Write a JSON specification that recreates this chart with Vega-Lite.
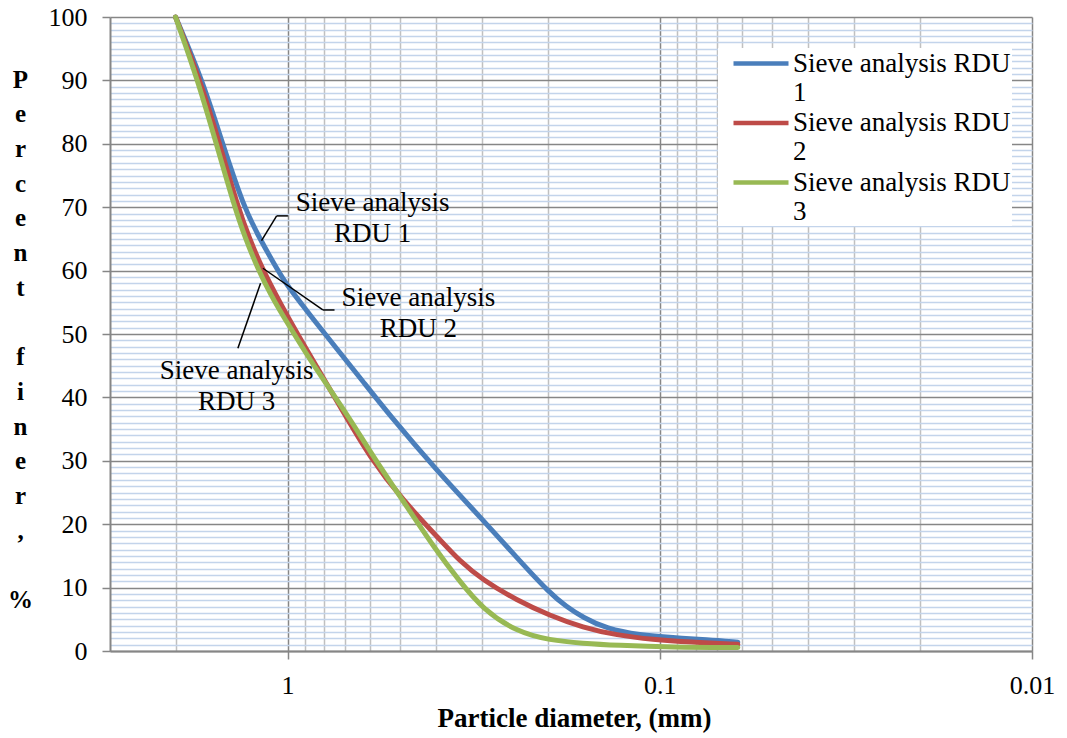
{
  "$schema": "https://vega.github.io/schema/vega-lite/v6.json",
  "width": 922,
  "height": 634,
  "autosize": {"type": "none"},
  "padding": {"left": 110, "top": 17, "right": 35, "bottom": 87},
  "background": "white",
  "config": {
    "view": {"stroke": null},
    "font": "Liberation Serif",
    "axis": {"labelFont": "Liberation Serif", "titleFont": "Liberation Serif", "labelColor": "black", "titleColor": "black"}
  },
  "datasets": {
    "curves": [
      {"s": "Sieve analysis RDU 1", "d": 2.0, "p": 100},
      {"s": "Sieve analysis RDU 1", "d": 1.692, "p": 90},
      {"s": "Sieve analysis RDU 1", "d": 1.495, "p": 80},
      {"s": "Sieve analysis RDU 1", "d": 1.311, "p": 70},
      {"s": "Sieve analysis RDU 1", "d": 1.189, "p": 65.1},
      {"s": "Sieve analysis RDU 1", "d": 1.062, "p": 60},
      {"s": "Sieve analysis RDU 1", "d": 1.0, "p": 57.6},
      {"s": "Sieve analysis RDU 1", "d": 0.919, "p": 54.8},
      {"s": "Sieve analysis RDU 1", "d": 0.85, "p": 52.2},
      {"s": "Sieve analysis RDU 1", "d": 0.738, "p": 47.7},
      {"s": "Sieve analysis RDU 1", "d": 0.629, "p": 42.6},
      {"s": "Sieve analysis RDU 1", "d": 0.532, "p": 37.2},
      {"s": "Sieve analysis RDU 1", "d": 0.398, "p": 28.5},
      {"s": "Sieve analysis RDU 1", "d": 0.299, "p": 20.7},
      {"s": "Sieve analysis RDU 1", "d": 0.242, "p": 14.7},
      {"s": "Sieve analysis RDU 1", "d": 0.1975, "p": 9.1},
      {"s": "Sieve analysis RDU 1", "d": 0.178, "p": 7.0},
      {"s": "Sieve analysis RDU 1", "d": 0.161, "p": 5.3},
      {"s": "Sieve analysis RDU 1", "d": 0.1389, "p": 3.5},
      {"s": "Sieve analysis RDU 1", "d": 0.1132, "p": 2.5},
      {"s": "Sieve analysis RDU 1", "d": 0.0923, "p": 2.1},
      {"s": "Sieve analysis RDU 1", "d": 0.0747, "p": 1.8},
      {"s": "Sieve analysis RDU 1", "d": 0.0617, "p": 1.4},
      {"s": "Sieve analysis RDU 2", "d": 2.0, "p": 100},
      {"s": "Sieve analysis RDU 2", "d": 1.717, "p": 90},
      {"s": "Sieve analysis RDU 2", "d": 1.523, "p": 80},
      {"s": "Sieve analysis RDU 2", "d": 1.36, "p": 70},
      {"s": "Sieve analysis RDU 2", "d": 1.265, "p": 65.0},
      {"s": "Sieve analysis RDU 2", "d": 1.172, "p": 60.4},
      {"s": "Sieve analysis RDU 2", "d": 1.051, "p": 55.0},
      {"s": "Sieve analysis RDU 2", "d": 0.891, "p": 47.6},
      {"s": "Sieve analysis RDU 2", "d": 0.804, "p": 43.2},
      {"s": "Sieve analysis RDU 2", "d": 0.71, "p": 37.8},
      {"s": "Sieve analysis RDU 2", "d": 0.602, "p": 30.6},
      {"s": "Sieve analysis RDU 2", "d": 0.491, "p": 23.8},
      {"s": "Sieve analysis RDU 2", "d": 0.39, "p": 17.6},
      {"s": "Sieve analysis RDU 2", "d": 0.345, "p": 14.2},
      {"s": "Sieve analysis RDU 2", "d": 0.299, "p": 11.2},
      {"s": "Sieve analysis RDU 2", "d": 0.242, "p": 8.0},
      {"s": "Sieve analysis RDU 2", "d": 0.1975, "p": 5.6},
      {"s": "Sieve analysis RDU 2", "d": 0.161, "p": 3.7},
      {"s": "Sieve analysis RDU 2", "d": 0.1305, "p": 2.5},
      {"s": "Sieve analysis RDU 2", "d": 0.1044, "p": 1.8},
      {"s": "Sieve analysis RDU 2", "d": 0.0831, "p": 1.4},
      {"s": "Sieve analysis RDU 2", "d": 0.0617, "p": 1.05},
      {"s": "Sieve analysis RDU 3", "d": 2.0, "p": 100},
      {"s": "Sieve analysis RDU 3", "d": 1.742, "p": 90},
      {"s": "Sieve analysis RDU 3", "d": 1.554, "p": 80},
      {"s": "Sieve analysis RDU 3", "d": 1.388, "p": 70},
      {"s": "Sieve analysis RDU 3", "d": 1.299, "p": 65.1},
      {"s": "Sieve analysis RDU 3", "d": 1.202, "p": 60.3},
      {"s": "Sieve analysis RDU 3", "d": 1.106, "p": 56.0},
      {"s": "Sieve analysis RDU 3", "d": 1.03, "p": 52.9},
      {"s": "Sieve analysis RDU 3", "d": 0.889, "p": 46.8},
      {"s": "Sieve analysis RDU 3", "d": 0.804, "p": 42.9},
      {"s": "Sieve analysis RDU 3", "d": 0.681, "p": 36.7},
      {"s": "Sieve analysis RDU 3", "d": 0.591, "p": 30.8},
      {"s": "Sieve analysis RDU 3", "d": 0.491, "p": 23.8},
      {"s": "Sieve analysis RDU 3", "d": 0.403, "p": 16.2},
      {"s": "Sieve analysis RDU 3", "d": 0.345, "p": 11.0},
      {"s": "Sieve analysis RDU 3", "d": 0.299, "p": 6.6},
      {"s": "Sieve analysis RDU 3", "d": 0.242, "p": 3.0},
      {"s": "Sieve analysis RDU 3", "d": 0.1975, "p": 1.7},
      {"s": "Sieve analysis RDU 3", "d": 0.161, "p": 1.2},
      {"s": "Sieve analysis RDU 3", "d": 0.1305, "p": 0.9},
      {"s": "Sieve analysis RDU 3", "d": 0.0923, "p": 0.6},
      {"s": "Sieve analysis RDU 3", "d": 0.0617, "p": 0.55}
    ],
    "labels": [
      {"d": 0.591, "p": 69.47, "t": ["Sieve analysis", "RDU 1"]},
      {"d": 0.445, "p": 54.42, "t": ["Sieve analysis", "RDU 2"]},
      {"d": 1.37, "p": 42.9, "t": ["Sieve analysis", "RDU 3"]}
    ],
    "leaders": [
      {"d": 1.07, "p": 68.63, "d2": 0.998, "p2": 68.63},
      {"d": 1.07, "p": 68.63, "d2": 1.175, "p2": 64.73},
      {"d": 1.165, "p": 60.37, "d2": 0.804, "p2": 53.79},
      {"d": 0.804, "p": 53.79, "d2": 0.748, "p2": 53.79},
      {"d": 1.182, "p": 58.0, "d2": 1.36, "p2": 47.74}
    ]
  },
  "resolve": {"axis": {"x": "independent", "y": "independent"}},
  "layer": [
    {
      "data": {"name": "labels"},
      "mark": {"type": "text", "align": "center", "baseline": "alphabetic", "fontSize": 27, "lineHeight": 31, "font": "Liberation Serif", "color": "black"},
      "encoding": {
        "x": {"field": "d", "type": "quantitative", "scale": {"type": "log", "domain": [0.01, 3], "reverse": true, "nice": false},
          "axis": {"orient": "top", "values": [2, 0.9, 0.8, 0.7, 0.6, 0.5, 0.4, 0.3, 0.2, 0.09, 0.08, 0.07, 0.06, 0.05, 0.04, 0.03, 0.02], "grid": true, "gridColor": "#c0c0c0", "gridWidth": 1.5, "labels": false, "ticks": false, "domain": false, "title": null}},
        "y": {"field": "p", "type": "quantitative", "scale": {"domain": [0, 100], "nice": false},
          "axis": {"orient": "right", "values": [1,2,3,4,5,6,7,8,9,11,12,13,14,15,16,17,18,19,21,22,23,24,25,26,27,28,29,31,32,33,34,35,36,37,38,39,41,42,43,44,45,46,47,48,49,51,52,53,54,55,56,57,58,59,61,62,63,64,65,66,67,68,69,71,72,73,74,75,76,77,78,79,81,82,83,84,85,86,87,88,89,91,92,93,94,95,96,97,98,99], "grid": true, "gridColor": "#c3d4eb", "gridWidth": 1.5, "labels": false, "ticks": false, "domain": false, "title": null}},
        "text": {"field": "t"}
      }
    },
    {
      "data": {"name": "curves"},
      "mark": {"type": "line", "strokeWidth": 5, "interpolate": "basis", "strokeCap": "round"},
      "encoding": {
        "x": {"field": "d", "type": "quantitative", "scale": {"type": "log", "domain": [0.01, 3], "reverse": true, "nice": false},
          "axis": {"orient": "bottom", "values": [1, 0.1, 0.01], "format": "~g", "labelFlush": false, "grid": true, "gridColor": "#868686", "gridWidth": 1.5, "tickSize": 8, "tickColor": "#868686", "tickWidth": 1.5, "domainColor": "#868686", "domainWidth": 2, "labelFontSize": 26, "labelPadding": 13, "labelFont": "Liberation Serif", "labelColor": "black",
            "title": "Particle diameter, (mm)", "titleFontSize": 27, "titleFontWeight": "bold", "titleBaseline": "alphabetic", "titleY": 75, "titleX": 464, "titleFont": "Liberation Serif", "titleColor": "black"}},
        "y": {"field": "p", "type": "quantitative", "scale": {"domain": [0, 100], "nice": false},
          "axis": {"orient": "left", "values": [0, 10, 20, 30, 40, 50, 60, 70, 80, 90, 100], "labelFlush": false, "grid": true, "gridColor": "#868686", "gridWidth": 1.5, "tickSize": 8, "tickColor": "#868686", "tickWidth": 1.5, "domainColor": "#868686", "domainWidth": 2, "labelFontSize": 26, "labelPadding": 15, "labelFont": "Liberation Serif", "labelColor": "black",
            "title": ["P", "e", "r", "c", "e", "n", "t", "\u200b", "f", "i", "n", "e", "r", ",", "\u200b", "%"],
            "titleAngle": 0, "titleAlign": "center", "titleBaseline": "alphabetic", "titleX": -90, "titleY": 70, "titleLineHeight": 34.7, "titleFontSize": 25, "titleFontWeight": "bold", "titleFont": "Liberation Serif", "titleColor": "black"}},
        "color": {"field": "s", "type": "nominal",
          "scale": {"domain": ["Sieve analysis RDU 1", "Sieve analysis RDU 2", "Sieve analysis RDU 3"], "range": ["#4a7ebb", "#be4b48", "#98b954"]},
          "legend": {"orient": "none", "legendX": 608, "legendY": 31, "fillColor": "white", "padding": 1, "title": null,
            "symbolType": "stroke", "symbolSize": 3025, "symbolStrokeWidth": 4.5, "symbolOffset": 12, "labelFont": "Liberation Serif", "labelFontSize": 27, "labelColor": "black", "labelLimit": 400, "labelOffset": 2, "rowPadding": 2.5,
            "labelBaseline": "middle", "labelExpr": "['Sieve analysis RDU', slice(datum.label, 19)]",
            "encode": {
              "symbols": {"update": {"y": {"value": 14.5}}},
              "labels": {"enter": {"lineHeight": {"value": 29}}, "update": {"y": {"value": 14.5}, "lineHeight": {"value": 29}}}
            }}},
        "order": {"field": "d", "type": "quantitative", "sort": "descending"}
      }
    },
    {
      "data": {"name": "leaders"},
      "mark": {"type": "rule", "color": "black", "strokeWidth": 1.5},
      "encoding": {
        "x": {"field": "d", "type": "quantitative", "axis": null},
        "x2": {"field": "d2"},
        "y": {"field": "p", "type": "quantitative", "axis": null},
        "y2": {"field": "p2"}
      }
    }
  ]
}
